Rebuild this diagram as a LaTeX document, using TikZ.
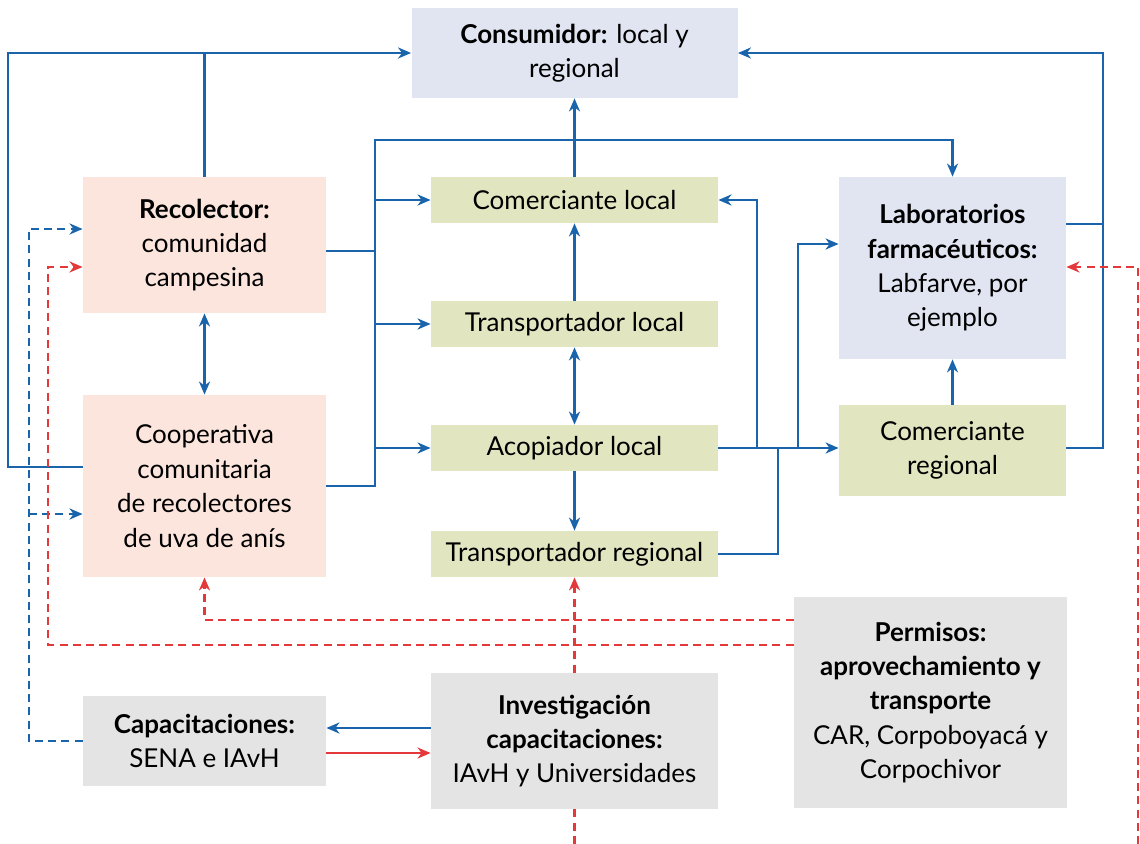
\documentclass[tikz,border=0pt]{standalone}
\usepackage{fontspec}
\setmainfont{Lato}
\usepackage{xcolor}
\usetikzlibrary{arrows.meta,positioning}

\definecolor{flowblue}{HTML}{1A64AC}
\definecolor{permred}{HTML}{E5383B}
\definecolor{lavbox}{HTML}{E1E5F2}
\definecolor{pinkbox}{HTML}{FCE5DD}
\definecolor{greenbox}{HTML}{E2E6C0}
\definecolor{graybox}{HTML}{E3E4E3}

\begin{document}
\begin{tikzpicture}[x=0.5pt, y=-0.5pt,
    box/.style={inner sep=0pt, align=center, font=\fontsize{13}{17.2}\selectfont},
    actor/.style={box, fill=pinkbox, minimum width=121.5pt},
    trader/.style={box, fill=greenbox, minimum width=143.5pt, minimum height=23pt},
    buyer/.style={box, fill=lavbox},
    agency/.style={box, fill=graybox},
    flow/.style={flowblue, line width=1.4pt},
    flowd/.style={flow, dash pattern=on 4pt off 2.6pt},
    perm/.style={permred, line width=1.4pt},
    permd/.style={perm, dash pattern=on 4pt off 2.6pt},
    >={Stealth[length=6.5pt,width=5.5pt,inset=2pt]}]
\useasboundingbox (0,0) rectangle (1140,844);

% BOXES
\node[buyer, minimum width=163pt, minimum height=45pt] (cons) at (574.5,53)
  {\textbf{Consumidor:} local y\\regional};
\node[actor, minimum height=68pt] (reco) at (204.5,245)
  {\textbf{Recolector:}\\comunidad\\campesina};
\node[actor, minimum height=91pt] (coop) at (204.5,486)
  {Cooperativa\\comunitaria\\de recolectores\\de uva de anís};
\node[trader] (coml) at (574.5,200) {Comerciante local};
\node[trader] (trl) at (574.5,324) {Transportador local};
\node[trader] (acop) at (574.5,448) {Acopiador local};
\node[trader] (trr) at (574.5,554) {Transportador regional};
\node[buyer, minimum width=113.5pt, minimum height=91pt] (lab) at (952.5,268)
  {\textbf{Laboratorios}\\\textbf{farmacéuticos:}\\Labfarve, por\\ejemplo};
\node[box, fill=greenbox, minimum width=113.5pt, minimum height=45.5pt] (comr) at (952.5,450.5)
  {Comerciante\\regional};
\node[agency, minimum width=136.5pt, minimum height=105.5pt] (permi) at (930.5,702.5)
  {\textbf{Permisos:}\\\textbf{aprovechamiento y}\\\textbf{transporte}\\CAR, Corpoboyacá y\\Corpochivor};
\node[agency, minimum width=121.5pt, minimum height=45pt] (capa) at (204.5,741)
  {\textbf{Capacitaciones:}\\SENA e IAvH};
\node[agency, minimum width=143.5pt, minimum height=68pt] (inv) at (574.5,741)
  {\textbf{Investigación}\\\textbf{capacitaciones:}\\IAvH y Universidades};

% junctions
\coordinate (busL) at (375,140);
\coordinate (jA) at (757,448);
\coordinate (jC) at (778,448);
\coordinate (jB) at (798,448);

% MARKET FLOWS
\draw[flow,->] (coop.west |- 0,467) -| (8,53) -- (cons.west);
\draw[flow] (reco.north) -- (reco.north |- cons.west);
\draw[flow] (reco.east |- 0,251) -- (busL |- 0,251);
\draw[flow,->] (coop.east) -| (busL) -| (lab.north);
\draw[flow,->] (busL |- coml.west) -- (coml.west);
\draw[flow,->] (busL |- trl.west) -- (trl.west);
\draw[flow,->] (busL |- acop.west) -- (acop.west);
\draw[flow,<->] (reco.south) -- (coop.north);
\draw[flow,->] (coml.north) -- (cons.south);
\draw[flow,->] (trl.north) -- (coml.south);
\draw[flow,<->] (trl.south) -- (acop.north);
\draw[flow,->] (acop.south) -- (trr.north);
\draw[flow,->] (acop.east) -- (acop.east -| comr.west);
\draw[flow,->] (jA) |- (coml.east);
\draw[flow,->] (jB) |- (lab.west |- 0,244);
\draw[flow] (trr.east) -| (jC);
\draw[flow,->] (comr.north) -- (lab.south);
\draw[flow,->] (comr.east |- jA) -| (1103,53) -- (cons.east);
\draw[flow] (lab.east |- 0,224) -- (1103,224);

% training and permits
\draw[flow,->] (inv.west |- 0,728) -- (capa.east |- 0,728);
\draw[perm,->] (capa.east |- 0,753) -- (inv.west |- 0,753);
\draw[flowd,->] (capa.west) -| (29,229) -- (reco.west |- 0,229);
\draw[flowd,->] (29,514) -- (coop.west |- 0,514);
\draw[permd,->] (permi.west |- 0,620) -| (coop.south);
\draw[permd,->] (permi.west |- 0,645) -| (48,267) -- (reco.west |- 0,267);
\draw[permd,->] (inv.north) -- (trr.south);
\draw[permd] (inv.south) -- (inv.south |- 0,844);
\draw[permd,->] (1138,844) |- (lab.east |- 0,267);

\end{tikzpicture}
\end{document}
